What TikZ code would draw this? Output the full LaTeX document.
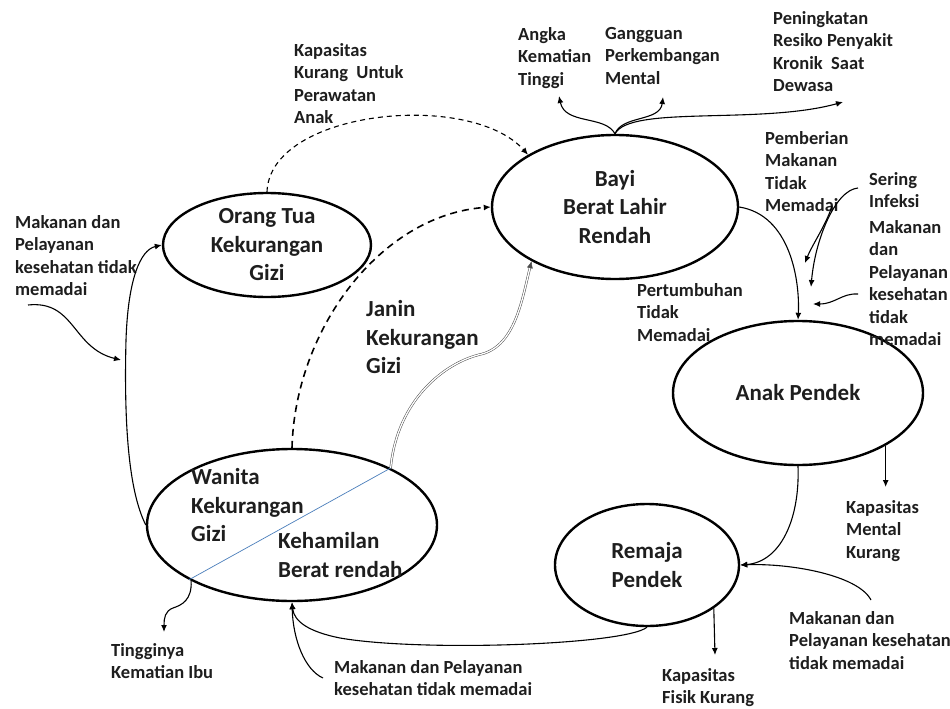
\documentclass[tikz,border=0pt]{standalone}
\usepackage{fontspec}
\setmainfont{Carlito}[BoldFont={Carlito Bold}]
\usetikzlibrary{shapes.geometric,arrows.meta}
\definecolor{ublue}{RGB}{74,126,187}
\definecolor{txt}{RGB}{30,30,30}
\begin{document}
\begin{tikzpicture}[x=1pt,y=-1pt,
  oval/.style={draw, ellipse, line width=2.4pt, inner sep=0pt, align=center, text=txt,
    font=\fontsize{23}{28.5}\selectfont\bfseries},
  big/.style={inner sep=0pt, align=left, anchor=north west, text=txt,
    font=\fontsize{23}{28.5}\selectfont\bfseries, execute at begin node=\strut},
  lbl/.style={inner sep=0pt, align=left, anchor=north west, text=txt,
    font=\fontsize{18.5}{22.5}\selectfont\bfseries, execute at begin node=\strut},
  con/.style={line width=1.1pt, -{Latex[length=7pt,width=6pt]}},
  dbl/.style={draw=black!70, double=white, double distance=1.3pt, line width=0.5pt,
    -{Latex[length=7pt,width=6pt]}},
]
\useasboundingbox[fill=white] (0,0) rectangle (950,709);

% ellipses
\node[oval, minimum width=208pt, minimum height=104pt] (orang) at (267,245) {Orang Tua\\Kekurangan\\Gizi};
\node[oval, minimum width=246pt, minimum height=144pt] (bayi) at (615,207) {Bayi\\Berat Lahir\\Rendah};
\node[oval, minimum width=250pt, minimum height=144pt] (anak) at (798,393) {Anak Pendek};
\node[oval, minimum width=184pt, minimum height=122pt] (remaja) at (647,565) {Remaja\\Pendek};
\node[oval, minimum width=290pt, minimum height=152pt] (wanita) at (292,525) {};

% texts in / near ellipses
\node[big] (wtext) at (191,468.5) {Wanita\\Kekurangan\\Gizi};
\node[big] (ktext) at (278,532.5) {Kehamilan\\Berat rendah};
\node[big] (janin) at (366,300.5) {Janin\\Kekurangan\\Gizi};

% labels
\node[lbl] (kap1) at (294,43) {Kapasitas\\Kurang\ \ Untuk\\Perawatan\\Anak};
\node[lbl] (mk1) at (15,215) {Makanan dan\\Pelayanan\\kesehatan tidak\\memadai};
\node[lbl] (angka) at (518,27) {Angka\\Kematian\\Tinggi};
\node[lbl] (gang) at (605,27) {Gangguan\\Perkembangan\\Mental};
\node[lbl] (pen) at (773,11) {Peningkatan\\Resiko Penyakit\\Kronik\ \ Saat\\Dewasa};
\node[lbl] (pemb) at (765,131) {Pemberian\\Makanan\\Tidak\\Memadai};
\node[lbl] (sering) at (869,172) {Sering\\Infeksi};
\node[lbl] (mk2) at (869,220) {Makanan\\dan\\Pelayanan\\kesehatan\\tidak\\memadai};
\node[lbl] (pert) at (637,283) {Pertumbuhan\\Tidak\\Memadai};
\node[lbl] (kapm) at (846,500) {Kapasitas\\Mental\\Kurang};
\node[lbl] (mk3) at (789,611) {Makanan dan\\Pelayanan kesehatan\\tidak memadai};
\node[lbl] (kapf) at (662,668) {Kapasitas\\Fisik Kurang};
\node[lbl] (mk4) at (334,660) {Makanan dan Pelayanan\\kesehatan tidak memadai};
\node[lbl] (ting) at (111,643) {Tingginya\\Kematian Ibu};

% free ends
\coordinate (a1) at (28,305);
\coordinate (a1e) at (121,360);
\coordinate (e1) at (559,96);
\coordinate (e2) at (663,97);
\coordinate (e3) at (843,102);
\coordinate (s1) at (858,188);
\coordinate (s1e) at (811,287);
\coordinate (p1) at (832,206);
\coordinate (p1e) at (805,263);
\coordinate (m2) at (858,294);
\coordinate (m2e) at (813,304);
\coordinate (km) at (886,487);
\coordinate (m3) at (871,600);
\coordinate (kf) at (715,655);
\coordinate (m4) at (323,678);
\coordinate (t1) at (164,632);

% blue diagonal
\draw[ublue, line width=0.7pt] (wanita.208) -- (wanita.30);

% connectors
\draw[con] (wanita.west) .. controls (128,490) and (124,420) .. (126,340) .. controls (128,280) and (140,250) .. (orang.west);
\draw[con] (a1) .. controls (75,300) and (72,348) .. (a1e);
\draw[con, line width=1.6pt, dash pattern=on 7pt off 5pt] (wanita.north) .. controls (295,330) and (380,215) .. (bayi.west);
\draw[con, dash pattern=on 5pt off 4pt] (orang.north) .. controls (270,110) and (470,90) .. (bayi.149);
\draw[dbl] (wanita.30) .. controls (397,400) and (445,362) .. (482,354) .. controls (515,345) and (522,300) .. (bayi.213);
\draw[con] (bayi.north) .. controls (605,115) and (565,125) .. (e1);
\draw[con] (bayi.north) .. controls (622,115) and (660,122) .. (e2);
\draw[con] (bayi.north) .. controls (630,105) and (760,125) .. (e3);
\draw[con] (bayi.east) .. controls (790,215) and (800,280) .. (anak.north);
\draw[con] (s1) .. controls (835,190) and (815,240) .. (s1e);
\draw[con] (p1) .. controls (826,225) and (812,245) .. (p1e);
\draw[con] (m2) .. controls (842,293) and (835,304) .. (m2e);
\draw[con] (anak.south) .. controls (800,520) and (780,562) .. (remaja.east);
\draw[con] (m3) .. controls (858,575) and (790,563) .. (remaja.east);
\draw[con] (anak.-31) -- (anak.-31 |- km);
\draw[con] (remaja.-33) -- (kf);
\draw[con] (remaja.south) .. controls (625,645) and (420,652) .. (340,638) .. controls (310,632) and (294,622) .. (wanita.south);
\draw[con] (m4) .. controls (305,670) and (293,640) .. (wanita.south);
\draw[con] (wanita.209) .. controls (192,600) and (182,605) .. (173,608) .. controls (165,611) and (164,618) .. (t1);
\end{tikzpicture}
\end{document}
